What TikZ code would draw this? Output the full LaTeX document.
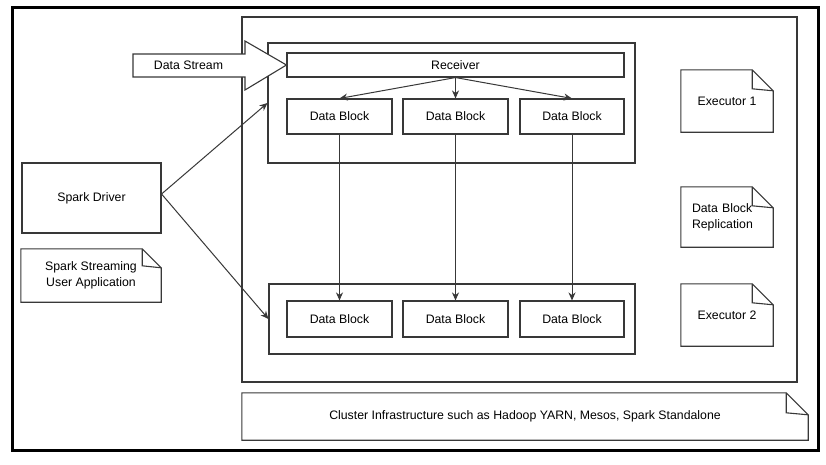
\documentclass[tikz,border=0pt]{standalone}
\usepackage{fontspec}
\setmainfont{Liberation Sans}
\usetikzlibrary{arrows.meta,calc}
\definecolor{ln}{gray}{0.22}
\tikzset{
  box/.style={draw=ln, line width=1.1pt, rectangle, inner sep=0pt, fill=white},
  plain/.style={draw=none, rectangle, inner sep=0pt},
  txt/.style={font=\fontsize{12.3}{16}\selectfont, align=center},
  arr/.style={draw=ln, line width=1pt, -{Stealth[length=8pt,width=7pt]}},
  line/.style={draw=ln, line width=1.1pt, line join=miter},
}
\begin{document}
\begin{tikzpicture}[x=1pt,y=-1pt]
\useasboundingbox (0,0) rectangle (826,464);
\fill[white] (0,0) rectangle (826,464);
% outer frame
\draw[black, line width=3pt] (12,7) rectangle (818,450);
% cluster
\node[box, minimum width=555, minimum height=365] (cluster) at (519.5,199.5) {};
% inner boxes
\node[box, minimum width=367, minimum height=120] (upbox) at (451.5,103) {};
\node[box, minimum width=366, minimum height=70] (lowbox) at (452,319) {};
% receiver
\node[box, txt, minimum width=337, minimum height=24] (recv) at (455.5,65) {Receiver};
% data blocks
\node[box, txt, minimum width=105, minimum height=35] (b1) at (339.5,116.5) {Data Block};
\node[box, txt, minimum width=105, minimum height=35] (b2) at (455.5,116.5) {Data Block};
\node[box, txt, minimum width=104, minimum height=35] (b3) at (572,116.5) {Data Block};
\node[box, txt, minimum width=105, minimum height=36] (l1) at (339.5,319) {Data Block};
\node[box, txt, minimum width=105, minimum height=36] (l2) at (455.5,319) {Data Block};
\node[box, txt, minimum width=104, minimum height=36] (l3) at (572,319) {Data Block};
% driver
\node[box, txt, minimum width=139, minimum height=70] (driver) at (91.5,198) {Spark Driver};
% notes
\node[plain, txt, minimum width=140, minimum height=53] (app) at (91,275.5) {Spark Streaming\\User Application};
\node[plain, txt, minimum width=92, minimum height=62] (e1) at (727,101) {Executor 1};
\node[plain, txt, minimum width=92, minimum height=60, text width=70, align=left] (rep) at (727,217) {Data Block\\Replication};
\node[plain, txt, minimum width=92, minimum height=62] (e2) at (727,315) {Executor 2};
\node[plain, txt, minimum width=566, minimum height=47] (infra) at (525,416.5) {Cluster Infrastructure such as Hadoop YARN, Mesos, Spark Standalone};
\foreach \n/\f in {app/19, e1/21, rep/21, e2/21, infra/22} {
  \draw[line] (\n.north west) -- ([xshift=-\f pt]\n.north east) -- ([yshift=-\f pt]\n.north east) -- (\n.south east) -- (\n.south west) -- cycle;
  \draw[line] ([xshift=-\f pt]\n.north east) -- ([xshift=-\f pt,yshift=-\f pt+2pt]\n.north east) -- ([yshift=-\f pt]\n.north east);
}
% data stream arrow
\draw[line, fill=white] (133,54) -- (245,54) -- (245,41) -- (recv.west) -- (245,90) -- (245,77) -- (133,77) -- cycle;
\node[plain, txt] (ds) at (188.5,65) {Data Stream};
% connectors
\draw[arr] (recv.south) -- (b1.north);
\draw[arr] (recv.south) -- (b2.north);
\draw[arr] (recv.south) -- (b3.north);
\draw[arr] (b1.south) -- (l1.north);
\draw[arr] (b2.south) -- (l2.north);
\draw[arr] (b3.south) -- (l3.north);
\coordinate (dr) at ([yshift=4pt]driver.east);
\draw[arr] (dr) -- (upbox.west);
\draw[arr] (dr) -- (lowbox.west);
\end{tikzpicture}
\end{document}
